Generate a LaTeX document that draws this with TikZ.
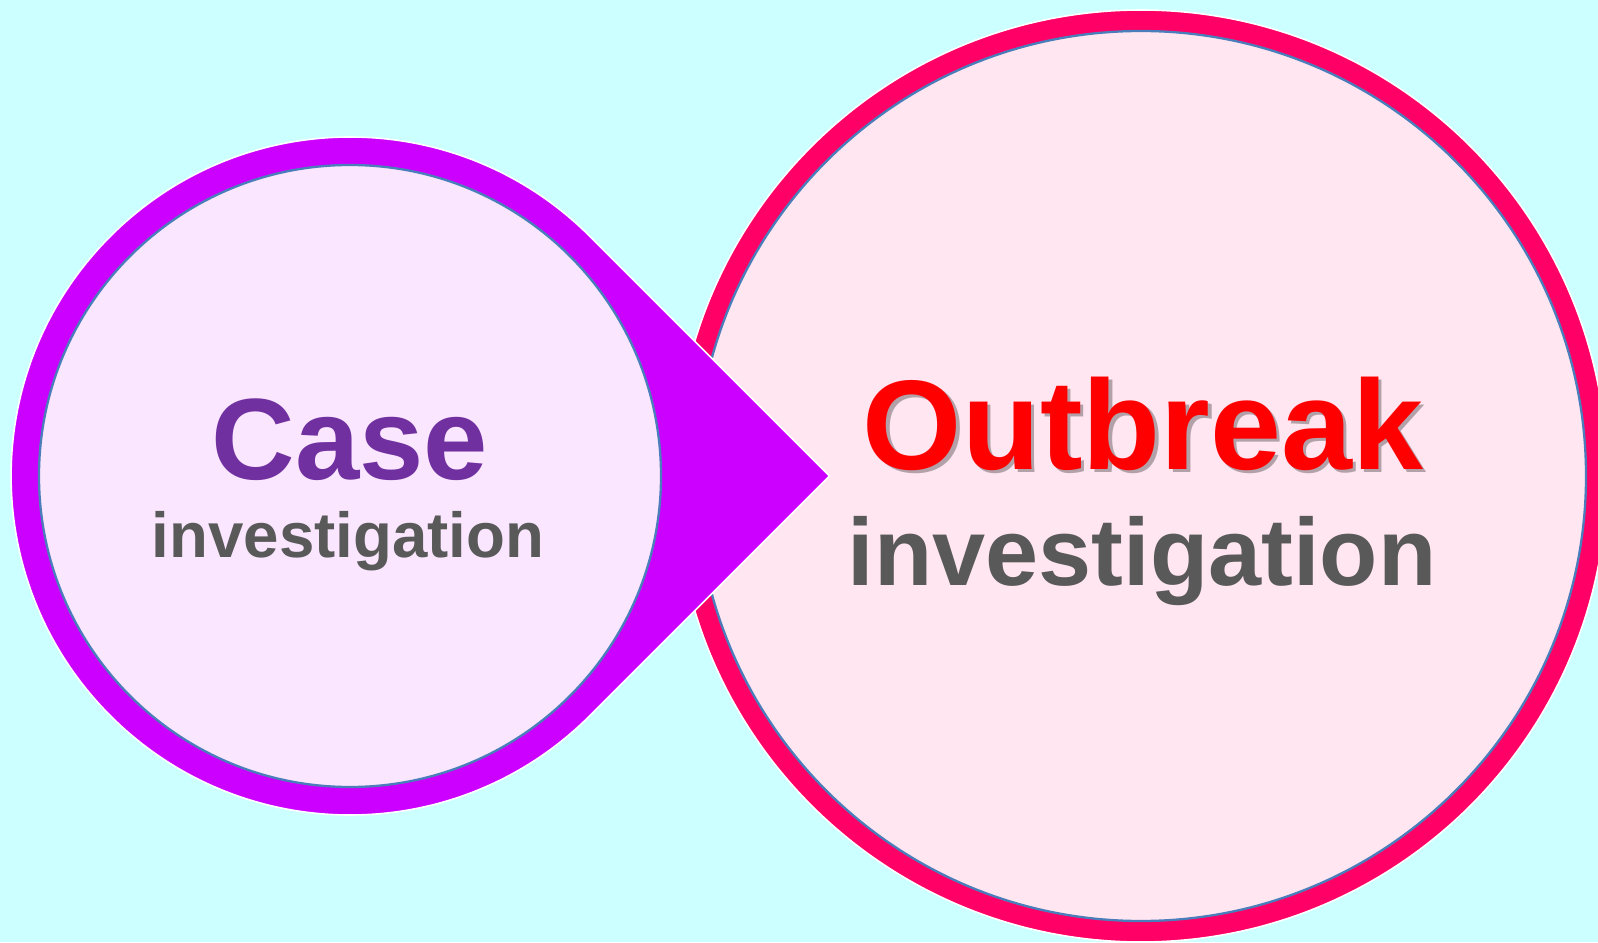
\documentclass[tikz,border=0pt]{standalone}
\usepackage{fontspec}
\setmainfont{Liberation Sans}
\usepackage{xcolor}

\definecolor{bgcyan}{HTML}{CCFFFF}
\definecolor{caseRing}{HTML}{CC00FF}
\definecolor{caseFill}{HTML}{FAE6FE}
\definecolor{outRing}{HTML}{FF0066}
\definecolor{outFill}{HTML}{FFE6F0}
\definecolor{edgeBlue}{HTML}{4A7EBB}
\definecolor{casePurple}{HTML}{7030A0}
\definecolor{textGray}{HTML}{595959}
\colorlet{shadowGray}{black!30!outFill}

\tikzset{
  ringshape/.style={draw=white, line width=0.9pt},
  innerdisc/.style={draw=edgeBlue, line width=1.3pt},
  word/.style={inner sep=0pt, anchor=base, font=\bfseries},
}

\newcommand{\shadowword}[1]{%
  \makebox[0pt][l]{\kern0.07cm\raisebox{-0.07cm}{\textcolor{shadowGray}{#1}}}#1}

\begin{document}
\begin{tikzpicture}
    % background
    \fill[bgcyan] (0,0) rectangle (31.96,18.84);
    \useasboundingbox (0,0) rectangle (31.96,18.84);
    \clip (0,0) rectangle (31.96,18.84);

    % outbreak circle
    \draw[ringshape, fill=outRing] (22.82,9.32) circle[radius=9.32];
    \draw[innerdisc, fill=outFill] (22.82,9.32) circle[radius=8.9];

    % case drop, pointing right
    \draw[ringshape, fill=caseRing] (16.59,9.32) -- ++(135:6.78)
        arc[start angle=45, end angle=315, radius=6.78] -- cycle;
    \draw[innerdisc, fill=caseFill] (7.0,9.32) circle[radius=6.22];

    \node[word, text=casePurple, font=\bfseries\fontsize{65.8}{70}\selectfont] (case) at (7.0,9.26) {Case};
    \node[word, text=textGray, font=\bfseries\fontsize{36.2}{40}\selectfont] (caseinv) at (6.96,7.70) {investigation};

    \node[word, text=red, font=\bfseries\fontsize{72.6}{78}\selectfont] (outbreak) at (22.86,9.46) {\shadowword{Outbreak}};
    \node[word, text=textGray, font=\bfseries\fontsize{54.3}{58}\selectfont] (outinv) at (22.84,7.14) {investigation};
\end{tikzpicture}
\end{document}
